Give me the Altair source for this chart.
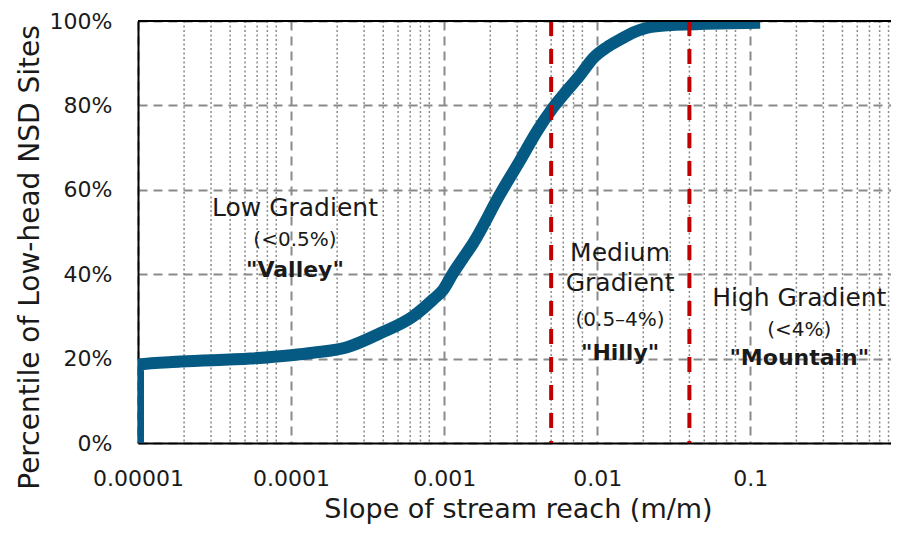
import altair as alt
import pandas as pd

# ---- data ----
slope = [1e-5, 1e-5, 1.9e-5, 5.4e-5, 1.0e-4, 1.39e-4, 2.32e-4, 3.82e-4, 6.27e-4,
         8.47e-4, 9.85e-4, 1.145e-3, 1.33e-3, 1.55e-3, 2.32e-3, 3.14e-3, 4.06e-3,
         5.15e-3, 6.37e-3, 7.74e-3, 9.42e-3, 1.16e-2, 1.41e-2, 1.72e-2, 2.12e-2,
         2.87e-2, 0.116]
percentile = [0, 18.6, 19.3, 20.0, 20.8, 21.4, 22.7, 26.0, 30.0,
              34.0, 36.3, 40.3, 43.8, 47.4, 59.0, 67.0, 74.0,
              79.5, 83.6, 87.2, 91.2, 93.8, 95.6, 97.3, 98.4,
              99.0, 99.6]

thresholds = [0.005, 0.04]
major_ticks = [1e-5, 1e-4, 1e-3, 1e-2, 1e-1]
minor_ticks = [m * d for d in [1e-5, 1e-4, 1e-3, 1e-2, 1e-1] for m in range(2, 9)]
y_ticks = [0, 0.2, 0.4, 0.6, 0.8, 1.0]

# annotation lines: text, x (slope), y (fraction), style
ann_text = ["Low Gradient", "(<0.5%)", "\"Valley\"",
            "Medium", "Gradient", "(0.5\u20134%)", "\"Hilly\"",
            "High Gradient", "(<4%)", "\"Mountain\""]
ann_x = [1.06e-4, 1.06e-4, 1.06e-4,
         1.41e-2, 1.41e-2, 1.41e-2, 1.41e-2,
         0.209, 0.209, 0.209]
ann_y = [0.557, 0.481, 0.41,
         0.45, 0.379, 0.291, 0.213,
         0.344, 0.268, 0.201]
ann_style = ["main", "sub", "bold",
             "main", "main", "sub", "bold",
             "main", "sub", "bold"]

FONT = "DejaVu Sans"
XDOM = [1e-5, 0.83]

curve = pd.DataFrame({"slope": slope, "pct": [p / 100 for p in percentile],
                      "order": list(range(len(slope)))})
ann = pd.DataFrame({"text": ann_text, "x": ann_x, "y": ann_y, "style": ann_style})

xscale = alt.Scale(type="log", domain=XDOM, nice=False)
yscale = alt.Scale(domain=[0, 1], nice=False)

base_x = alt.X("slope:Q", scale=xscale,
               axis=alt.Axis(values=major_ticks, format=".5~f", ticks=False,
                             labelFlush=False, labelOverlap=False,
                             grid=True, gridDash=[9, 6], gridColor="#8a8a8a",
                             gridWidth=2, domainColor="black", domainWidth=2,
                             labelFont=FONT, labelFontSize=22, labelColor="#1a1a1a",
                             labelPadding=25, title="Slope of stream reach (m/m)",
                             titleFont=FONT, titleFontSize=27, titleFontWeight="normal",
                             titleColor="#1a1a1a", titlePadding=7, titleX=380))
base_y = alt.Y("pct:Q", scale=yscale,
               axis=alt.Axis(values=y_ticks, format=".0%", ticks=False,
                             grid=True, gridDash=[9, 6], gridColor="#8a8a8a",
                             gridWidth=2, domainColor="black", domainWidth=2,
                             labelFont=FONT, labelFontSize=22, labelColor="#1a1a1a",
                             labelPadding=26, title="Percentile of Low-head NSD Sites",
                             titleFont=FONT, titleFontSize=28, titleFontWeight="normal",
                             titleColor="#1a1a1a", titlePadding=5, titleY=236))

minor = alt.Chart(pd.DataFrame({"v": minor_ticks})).mark_rule(
    color="#8a8a8a", strokeWidth=1.5, strokeDash=[2, 2.5]
).encode(x=alt.X("v:Q", scale=xscale))

top_border = alt.Chart(pd.DataFrame({"t": [1.0]})).mark_rule(
    color="black", strokeWidth=2
).encode(y=alt.Y("t:Q", scale=yscale))

thresh = alt.Chart(pd.DataFrame({"v": thresholds})).mark_rule(
    color="#C00000", strokeWidth=4, strokeDash=[15, 13]
).encode(x=alt.X("v:Q", scale=xscale))

line = alt.Chart(curve).mark_line(
    color="#045a82", strokeWidth=12, strokeJoin="round", strokeCap="butt",
    interpolate="monotone", clip=True
).encode(x=base_x, y=base_y, order="order:Q")

def text_layer(style, size, weight):
    return alt.Chart(ann).transform_filter(alt.datum.style == style).mark_text(
        font=FONT, fontSize=size, fontWeight=weight, color="#1a1a1a",
        align="center", baseline="middle"
    ).encode(x=alt.X("x:Q", scale=xscale), y=alt.Y("y:Q", scale=yscale),
             text="text:N")

chart = alt.layer(
    minor, line, thresh, top_border,
    text_layer("main", 25, "normal"),
    text_layer("sub", 20, "normal"),
    text_layer("bold", 22, "bold"),
).properties(
    width=753, height=422, autosize="none",
    padding={"left": 130, "top": 13, "right": 0, "bottom": 82},
).configure_view(stroke=None).configure(background="white")

chart.save("out.html", embed_options={"renderer": "svg", "actions": False})
